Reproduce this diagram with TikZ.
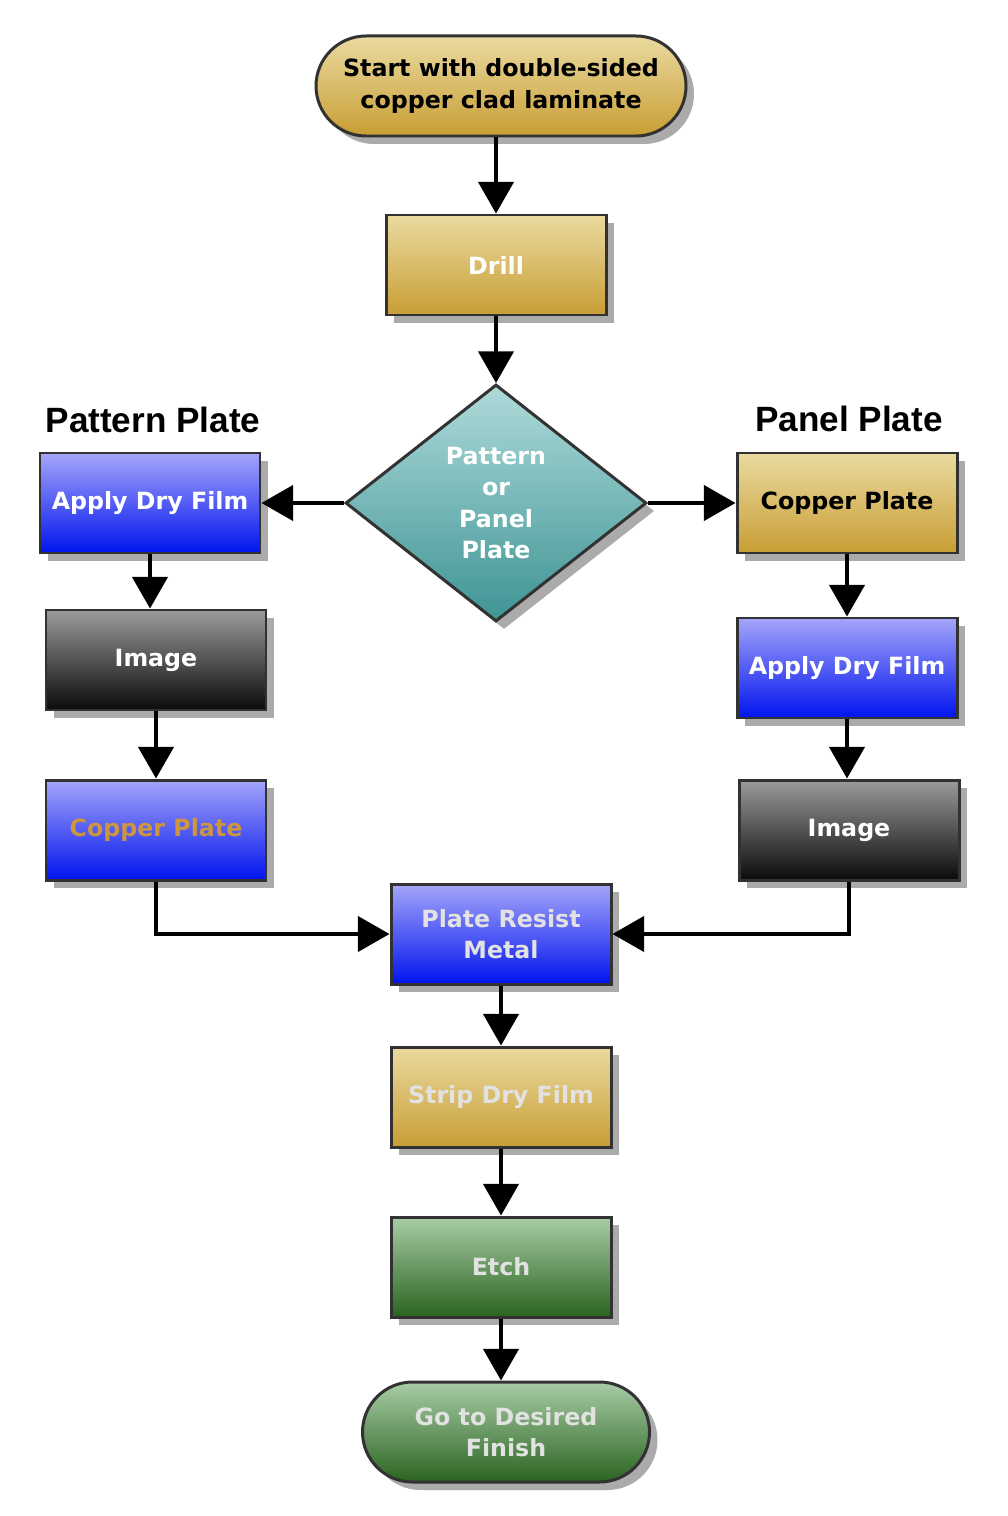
\documentclass[tikz,border=0pt]{standalone}
\usepackage{fontspec}
\setmainfont{DejaVu Sans}
\newfontfamily\headfont{Liberation Sans}
\usepackage{tikz}
\usetikzlibrary{positioning,shapes.geometric,shadows,arrows.meta}

\definecolor{goldtop}{RGB}{234,218,160}
\definecolor{goldbot}{RGB}{200,158,52}
\definecolor{bluetop}{RGB}{165,165,250}
\definecolor{bluebot}{RGB}{0,20,238}
\definecolor{darktop}{RGB}{155,155,155}
\definecolor{darkbot}{RGB}{10,10,10}
\definecolor{tealtop}{RGB}{175,218,218}
\definecolor{tealbot}{RGB}{62,148,148}
\definecolor{greentop}{RGB}{168,204,166}
\definecolor{greenbot}{RGB}{42,100,32}
\definecolor{cutext}{RGB}{205,150,62}
\definecolor{pale}{RGB}{226,226,226}
\definecolor{rim}{RGB}{50,50,50}

\begin{document}
\begin{tikzpicture}[node distance = 3cm, on grid,
    >={Triangle[width=20pt,length=18pt]},
    base/.style={draw=rim, line width=1.7pt, align=center,
        font=\bfseries\fontsize{13.5}{18}\selectfont,
        drop shadow={shadow xshift=0.16cm, shadow yshift=-0.16cm, fill=black!33, opacity=1}},
    block/.style={base, rectangle, minimum width=4.4cm, minimum height=2cm},
    term/.style={base, rectangle, rounded corners=1cm, minimum height=2cm},
    choice/.style={base, diamond, inner sep=0pt, minimum width=6.02cm, minimum height=4.74cm},
    head/.style={font=\headfont\bfseries\fontsize{20}{24}\selectfont},
    gold/.style={top color=goldtop, bottom color=goldbot},
    blue/.style={top color=bluetop, bottom color=bluebot},
    dark/.style={top color=darktop, bottom color=darkbot},
    teal/.style={top color=tealtop, bottom color=tealbot},
    leaf/.style={top color=greentop, bottom color=greenbot},
    flow/.style={->, line width=2.2pt}]
    \useasboundingbox (0,0) rectangle (20.16,-30.32);

    \node[term,gold,minimum width=7.4cm] (start) at (10.02,-1.72) {Start with double-sided\\copper clad laminate};
    \node[block,gold,text=white] (drill) [below=3.58cm of start, xshift=-0.1cm] {Drill};
    \node[choice,teal,text=white] (choose) [below=4.76cm of drill] {Pattern\\or\\Panel\\Plate};

    % pattern plate column
    \node[block,blue,text=white] (padf) [left=6.92cm of choose] {Apply Dry Film};
    \node[block,dark,text=white] (pimg) [below=3.14cm of padf, xshift=0.12cm] {Image};
    \node[block,blue,text=cutext] (pcu) [below=3.4cm of pimg] {Copper Plate};
    \node[head] (phead) [above=1.66cm of padf, xshift=0.06cm] {Pattern Plate};

    % panel plate column
    \node[block,gold,text=black] (ncu) [right=7.02cm of choose] {Copper Plate};
    \node[block,blue,text=white] (nadf) [below=3.3cm of ncu] {Apply Dry Film};
    \node[block,dark,text=white] (nimg) [below=3.24cm of nadf, xshift=0.04cm] {Image};
    \node[head] (nhead) [above=1.68cm of ncu, xshift=0.04cm] {Panel Plate};

    \node[block,blue,text=pale] (resist) [below=8.62cm of choose, xshift=0.1cm] {Plate Resist\\Metal};
    \node[block,gold,text=pale] (strip) [below=3.26cm of resist] {Strip Dry Film};
    \node[block,leaf,text=pale] (etch) [below=3.4cm of strip] {Etch};
    \node[term,leaf,text=pale,minimum width=5.74cm] (finish) [below=3.3cm of etch, xshift=0.1cm] {Go to Desired\\Finish};

    \path[flow]
    (drill.north |- start.south) edge (drill)
    (drill) edge (choose)
    (choose) edge (padf)
    (choose) edge (ncu)
    (padf.south) edge (padf.south |- pimg.north)
    (pimg) edge (pcu)
    (ncu) edge (nadf)
    (nadf.south) edge (nadf.south |- nimg.north)
    (resist) edge (strip)
    (strip) edge (etch)
    (etch.south) edge (etch.south |- finish.north);
    \draw[flow] (pcu) |- (resist);
    \draw[flow] (nimg) |- (resist);
\end{tikzpicture}
\end{document}
